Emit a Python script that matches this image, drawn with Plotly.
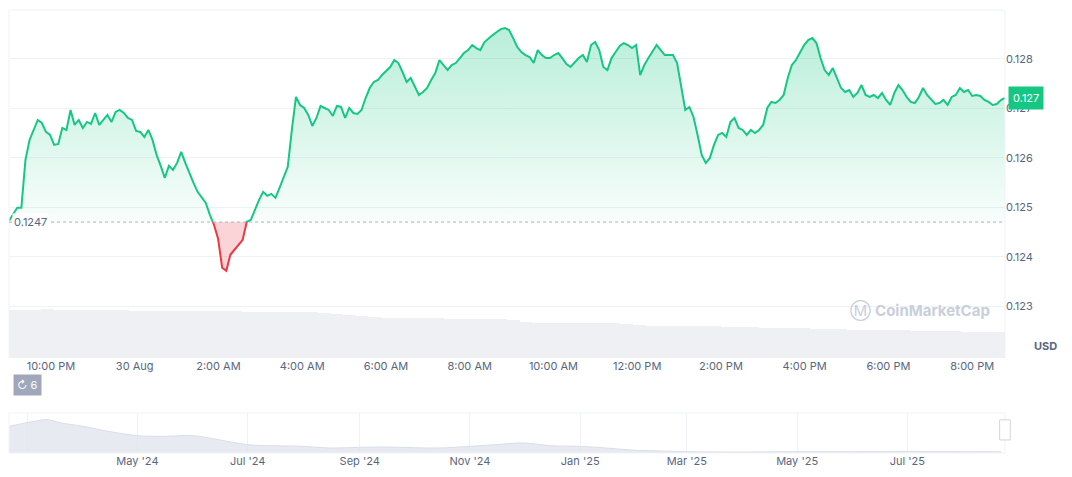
import plotly.graph_objects as go
import pandas as pd
import numpy as np

# ---- main price series (USD), 29 Aug 21:00 -> 30 Aug 20:47 ----
start_time = "2025-08-29 21:00"
end_time = "2025-08-30 20:47"
prices = [
0.124726,0.124847,0.124988,0.124988,0.125958,0.126362,0.126564,0.126766,0.126705,0.126524,
0.126463,0.126261,0.126281,0.126604,0.126564,0.126968,0.126665,0.126766,0.126604,0.126726,
0.126685,0.126907,0.126665,0.126766,0.126867,0.126726,0.126928,0.126968,0.126907,0.126806,
0.126766,0.126544,0.126524,0.126423,0.126564,0.126362,0.126059,0.125837,0.125594,0.125837,
0.125756,0.125897,0.126120,0.125897,0.125675,0.125493,0.125312,0.125211,0.125089,0.124847,
0.124645,0.124362,0.123776,0.123716,0.124039,0.124140,0.124241,0.124342,0.124706,0.124746,
0.124948,0.125150,0.125312,0.125231,0.125271,0.125190,0.125392,0.125615,0.125817,0.126564,
0.127231,0.127069,0.127008,0.126867,0.126645,0.126806,0.127049,0.127008,0.126968,0.126847,
0.127049,0.127029,0.126806,0.127008,0.126907,0.126887,0.126968,0.127210,0.127412,0.127534,
0.127574,0.127675,0.127756,0.127837,0.127978,0.127917,0.127736,0.127534,0.127614,0.127453,
0.127271,0.127332,0.127412,0.127574,0.127715,0.127978,0.127877,0.127776,0.127877,0.127917,
0.128018,0.128119,0.128180,0.128281,0.128220,0.128180,0.128342,0.128422,0.128483,0.128544,
0.128604,0.128624,0.128584,0.128422,0.128241,0.128140,0.128079,0.128039,0.127917,0.128180,
0.128079,0.128018,0.128018,0.128079,0.128119,0.128018,0.127897,0.127837,0.127938,0.128018,
0.128079,0.127938,0.128281,0.128342,0.128180,0.127837,0.127776,0.128018,0.128140,0.128261,
0.128321,0.128281,0.128220,0.128281,0.127675,0.127877,0.128018,0.128140,0.128281,0.128180,
0.128079,0.128079,0.128079,0.127917,0.127473,0.126968,0.127029,0.126827,0.126463,0.126059,
0.125897,0.125998,0.126261,0.126463,0.126503,0.126423,0.126726,0.126806,0.126604,0.126564,
0.126463,0.126564,0.126503,0.126564,0.126665,0.127008,0.127130,0.127109,0.127170,0.127271,
0.127614,0.127877,0.127978,0.128140,0.128281,0.128382,0.128422,0.128321,0.128018,0.127776,
0.127675,0.127816,0.127614,0.127412,0.127332,0.127372,0.127231,0.127311,0.127473,0.127271,
0.127231,0.127271,0.127210,0.127311,0.127170,0.127069,0.127311,0.127473,0.127372,0.127231,
0.127130,0.127109,0.127231,0.127412,0.127271,0.127170,0.127089,0.127109,0.127170,0.127069,
0.127231,0.127271,0.127412,0.127332,0.127372,0.127251,0.127271,0.127251,0.127170,0.127130,
0.127069,0.127089,0.127170,0.127210,
]
open_price = 0.1247
last_price_label = "0.127"

volumes = [48,48,48,49,48,48,48,48,48,48,47,47,47,47,47,47,47,47,47,46,
           46,46,46,46,46,45,44,43,42,41,40,40,40,40,40,39,39,39,39,39,
           38,36,35,35,35,35,35,35,35,34,33,32,32,32,32,32,32,31,31,31,
           30,30,30,30,29,29,29,28,28,28,28,28,27,27,27,27,26,26,26,26]

nav_dates = ["2024-02-20","2024-03-05","2024-03-12","2024-03-20","2024-04-01","2024-04-15",
             "2024-05-01","2024-05-15","2024-06-01","2024-06-15","2024-07-01","2024-07-15",
             "2024-08-01","2024-08-15","2024-09-01","2024-09-15","2024-10-01","2024-10-15",
             "2024-11-01","2024-11-15","2024-12-01","2024-12-15","2025-01-01","2025-01-15",
             "2025-02-01","2025-02-15","2025-03-01","2025-04-01","2025-05-01","2025-06-01",
             "2025-07-01","2025-08-01","2025-08-22"]
nav_values = [80,95,100,90,80,65,52,50,52,40,25,22,20,15,17,18,16,15,20,25,30,22,20,15,
              8,6,4,3,4,4,5,4,4]

main_ticks = ["2025-08-29 22:00","2025-08-30 00:00","2025-08-30 02:00","2025-08-30 04:00",
              "2025-08-30 06:00","2025-08-30 08:00","2025-08-30 10:00","2025-08-30 12:00",
              "2025-08-30 14:00","2025-08-30 16:00","2025-08-30 18:00","2025-08-30 20:00"]
main_tick_text = ["10:00 PM","30 Aug","2:00 AM","4:00 AM","6:00 AM","8:00 AM","10:00 AM",
                  "12:00 PM","2:00 PM","4:00 PM","6:00 PM","8:00 PM"]
nav_ticks = ["2024-03-01","2024-05-01","2024-07-01","2024-09-01","2024-11-01","2025-01-01",
             "2025-03-01","2025-05-01","2025-07-01"]
nav_tick_text = ["Mar '24","May '24","Jul '24","Sep '24","Nov '24","Jan '25","Mar '25",
                 "May '25","Jul '25"]
y_ticks = [0.123,0.124,0.125,0.126,0.127,0.128]

GREEN = "#16c784"; RED = "#ea3943"; GRAY = "#58667e"
XD = [0.001, 0.937]
MAIN_Y = [0.2537, 0.9957]
NAV_Y = [0.0512, 0.1365]

times = pd.date_range(start_time, end_time, periods=len(prices))
t_num = times.astype("int64").to_numpy().astype(float)
p = np.array(prices)

# insert crossing points with the open price so fills/lines split cleanly
xs, ys = [t_num[0]], [p[0]]
for i in range(1, len(p)):
    a, b = p[i-1] - open_price, p[i] - open_price
    if a * b < 0:
        f = a / (a - b)
        xs.append(t_num[i-1] + f * (t_num[i] - t_num[i-1])); ys.append(open_price)
    xs.append(t_num[i]); ys.append(p[i])
xs = pd.to_datetime(np.array(xs).astype("int64"))
ys = np.array(ys)
up = np.where(ys >= open_price - 1e-12, ys, np.nan)
dn = np.where(ys <= open_price + 1e-12, ys, np.nan)

fig = go.Figure()
vol_times = pd.date_range(start_time, end_time, periods=len(volumes))
fig.add_trace(go.Bar(x=vol_times, y=volumes, yaxis="y2", marker_color="#eef0f4",
                     marker_line_width=0, hoverinfo="skip"))
base = np.full(len(xs), open_price)
fig.add_trace(go.Scatter(x=xs, y=base, mode="lines", line=dict(width=0), hoverinfo="skip"))
fig.add_trace(go.Scatter(x=xs, y=np.maximum(ys, open_price), mode="lines", line=dict(width=0),
                         fill="tonexty",
                         fillgradient=dict(type="vertical", colorscale=[[0, "rgba(22,199,132,0.03)"], [1, "rgba(22,199,132,0.30)"]]),
                         hoverinfo="skip"))
fig.add_trace(go.Scatter(x=xs, y=base, mode="lines", line=dict(width=0), hoverinfo="skip"))
fig.add_trace(go.Scatter(x=xs, y=np.minimum(ys, open_price), mode="lines", line=dict(width=0),
                         fill="tonexty", fillcolor="rgba(234,57,67,0.22)", hoverinfo="skip"))
fig.add_trace(go.Scatter(x=xs, y=up, mode="lines", line=dict(color=GREEN, width=2), connectgaps=False))
fig.add_trace(go.Scatter(x=xs, y=dn, mode="lines", line=dict(color=RED, width=2), connectgaps=False))
fig.add_trace(go.Scatter(x=pd.to_datetime(nav_dates), y=nav_values, xaxis="x2", yaxis="y3",
                         mode="lines", line=dict(color="rgba(215,220,230,0.9)", width=1, shape="spline"),
                         fill="tozeroy", fillcolor="rgba(225,229,236,0.8)", hoverinfo="skip"))

fig.update_layout(
    width=1064, height=469, margin=dict(l=0, r=0, t=0, b=0),
    paper_bgcolor="white", plot_bgcolor="white", showlegend=False, bargap=0,
    font=dict(family="Inter, Roboto, sans-serif", size=11, color=GRAY),
    xaxis=dict(domain=XD, range=[times[0], times[-1]], tickvals=main_ticks,
               ticktext=main_tick_text, showgrid=False, zeroline=False, showline=False,
               ticks="", tickfont=dict(size=11, color=GRAY)),
    yaxis=dict(domain=MAIN_Y, range=[0.12195, 0.12899], side="right",
               tickvals=y_ticks, ticktext=[f"{v:.3f}" for v in y_ticks],
               gridcolor="#eff2f5", zeroline=False, showline=False, ticks="",
               tickfont=dict(size=11, color=GRAY)),
    yaxis2=dict(domain=MAIN_Y, range=[0, 348], overlaying="y", visible=False),
    xaxis2=dict(domain=XD, anchor="y3", range=["2024-02-20", "2025-08-24"],
                tickvals=nav_ticks, ticktext=nav_tick_text, showgrid=True, gridcolor="#eff2f5",
                zeroline=False, ticks="", tickfont=dict(size=11, color=GRAY)),
    yaxis3=dict(domain=NAV_Y, range=[0, 120], visible=False, anchor="x2"),
)
for (x0, x1, y0, y1) in [(XD[0], XD[1], MAIN_Y[1], MAIN_Y[1]), (XD[1], XD[1], MAIN_Y[0], MAIN_Y[1]),
                         (XD[0], XD[0], MAIN_Y[0], MAIN_Y[1])]:
    fig.add_shape(type="line", xref="paper", yref="paper", x0=x0, x1=x1, y0=y0, y1=y1,
                  line=dict(color="#eff2f5", width=1))
fig.add_shape(type="rect", xref="paper", yref="paper", x0=XD[0], x1=XD[1], y0=NAV_Y[0], y1=NAV_Y[1],
              line=dict(color="#eff2f5", width=1))
fig.add_shape(type="line", xref="paper", yref="y", x0=XD[0], x1=XD[1], y0=open_price, y1=open_price,
              line=dict(color="#a6b0c3", width=1, dash="dot"))
fig.add_annotation(x=XD[0], xref="paper", y=open_price, yref="y", text=f"{open_price}",
                   showarrow=False, xanchor="left", font=dict(size=11, color=GRAY),
                   bgcolor="white", xshift=3)
fig.add_annotation(x=XD[1], xref="paper", y=prices[-1], yref="y", text=last_price_label,
                   showarrow=False, xanchor="left", font=dict(size=11, color="white"),
                   bgcolor=GREEN, borderpad=4, xshift=3)
fig.add_annotation(x=0.9624, xref="paper", y=0.26, yref="paper", text="<b>USD</b>", showarrow=False,
                   font=dict(size=11, color=GRAY), xanchor="left")
fig.add_annotation(x=0.857, xref="paper", y=0.354, yref="paper", text="Ⓜ <b>CoinMarketCap</b>",
                   showarrow=False, font=dict(size=15, color="#c9cfdb"), xanchor="center")
fig.add_annotation(x=0.018, xref="paper", y=0.173, yref="paper", text="↻ 6", showarrow=False,
                   font=dict(size=11, color="white"), bgcolor="#a1a7bb", borderpad=3, xanchor="center")
fig.add_shape(type="rect", xref="paper", yref="paper", x0=0.932, x1=0.942, y0=0.079, y1=0.122,
              line=dict(color="#d0d5de", width=1), fillcolor="white")

fig.write_html("out.html")
